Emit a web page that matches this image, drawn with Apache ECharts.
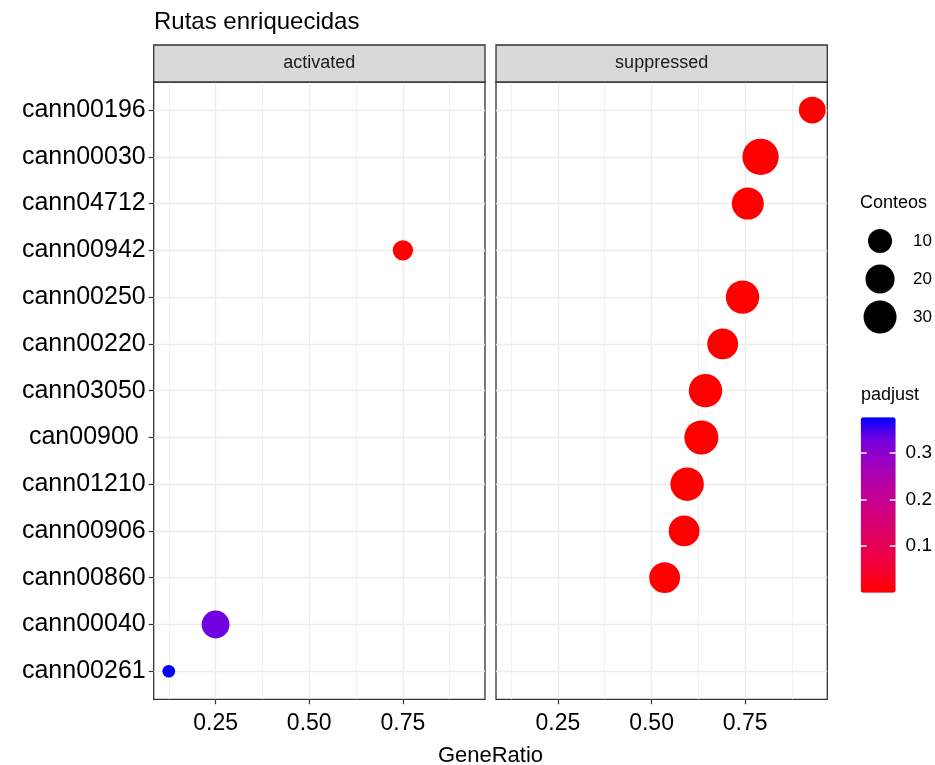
<!DOCTYPE html>
<html><head><meta charset="utf-8">
<script src="https://cdn.jsdelivr.net/npm/echarts@6/dist/echarts.min.js"></script>
<style>html,body{margin:0;padding:0;background:#fff}#c{width:935px;height:765px}</style>
</head><body><div id="c"></div><script>
// categories bottom (1) to top (13)
const categories = ['cann00261','cann00040','cann00860','cann00906','cann01210','can00900 ','cann03050','cann00220','cann00250','cann00942','cann04712','cann00030','cann00196'];
const panels = ['activated','suppressed'];

const activatedPath  = ['cann00942','cann00040','cann00261'];
const activatedRatio = [0.75, 0.25, 0.125];
const activatedCount = [5, 17, 1];
const activatedPadj  = [0.0, 0.33, 0.376];

const suppressedPath  = ['cann00196','cann00030','cann04712','cann00250','cann00220','cann03050','can00900 ','cann01210','cann00906','cann00860'];
const suppressedRatio = [0.929, 0.791, 0.757, 0.743, 0.690, 0.644, 0.633, 0.595, 0.587, 0.535];
const suppressedCount = [15, 40, 27, 31, 24, 31, 33, 31, 24, 24];
const suppressedPadj  = [0.0, 0.0, 0.0, 0.0, 0.0, 0.0, 0.0, 0.0, 0.0, 0.0];

const xTicks = [0.25, 0.5, 0.75];
const xMinorTicks = [0.125, 0.375, 0.625, 0.875];
const sizeBreaks = [10, 20, 30];
const padjBreaks = [0.1, 0.2, 0.3];

const allRatio = activatedRatio.concat(suppressedRatio);
const allCount = activatedCount.concat(suppressedCount);
const allPadj = activatedPadj.concat(suppressedPadj);
const rMin = Math.min(...allRatio), rMax = Math.max(...allRatio);
const xPad = (rMax - rMin) * 0.05;
const X_MIN = rMin - xPad, X_MAX = rMax + xPad;
const cMin = Math.min(...allCount), cMax = Math.max(...allCount);
const pMin = 0, pMax = Math.max(...allPadj);
const SIZE_RANGE = [12.7, 36.3];
function sizeOf(n) {
  const f = Math.max(0, (n - cMin) / (cMax - cMin));
  return SIZE_RANGE[0] + (SIZE_RANGE[1] - SIZE_RANGE[0]) * Math.sqrt(f);
}
function toData(paths, ratios, counts, padj) {
  return paths.map((p, i) => [ratios[i], categories.indexOf(p) + 1, counts[i], padj[i]]);
}
const yVals = categories.map((c, i) => i + 1);

const FONT = "'Liberation Sans', Arial, sans-serif";
const PANEL_TOP = 82, PANEL_H = 617.3, PANEL_W = 331.3;
const PANEL_LEFT = [153.7, 496];
const BAR_W = 35, BAR_TICK = 6;

const grids = PANEL_LEFT.map(l => ({left: l, top: PANEL_TOP, width: PANEL_W, height: PANEL_H,
  show: true, borderColor: '#333333', borderWidth: 1.3, backgroundColor: '#fff'}));
grids.push({left: 866, top: 222, width: 30, height: 114}); // size legend
grids.push({left: 860.7, top: 417.3, width: BAR_W, height: 175.4}); // colourbar axis

const xAxes = [], yAxes = [];
[0, 1].forEach(g => {
  xAxes.push({type: 'value', gridIndex: g, min: X_MIN, max: X_MAX, position: 'bottom',
    axisLine: {show: false},
    axisTick: {show: true, length: 5, customValues: xTicks, lineStyle: {color: '#333', width: 1.2}},
    axisLabel: {customValues: xTicks, formatter: v => v.toFixed(2), color: '#000', fontSize: 23, fontFamily: FONT, margin: 13},
    splitLine: {show: true, lineStyle: {color: '#ebebeb', width: 1.3}}, z: 1});
  xAxes.push({type: 'value', gridIndex: g, min: X_MIN, max: X_MAX, position: 'bottom',
    axisLine: {show: false}, axisLabel: {show: false},
    axisTick: {show: false, customValues: xMinorTicks},
    splitLine: {show: true, lineStyle: {color: '#ededed', width: 0.8}}, z: 0});
  yAxes.push({type: 'value', gridIndex: g, min: 0.4, max: categories.length + 0.6,
    axisLine: {show: false},
    axisTick: {show: g === 0, length: 5, customValues: yVals, lineStyle: {color: '#333', width: 1.2}},
    axisLabel: {show: g === 0, customValues: yVals, formatter: v => categories[Math.round(v) - 1],
      color: '#000', fontSize: 25, fontFamily: FONT, margin: 8},
    splitLine: {show: true, lineStyle: {color: '#ebebeb', width: 1.3}}});
});
// size legend axes
xAxes.push({type: 'value', gridIndex: 2, min: -1, max: 1, show: false});
yAxes.push({type: 'value', gridIndex: 2, min: 5, max: 35, inverse: true, position: 'right',
  axisLine: {show: false}, axisTick: {show: false}, splitLine: {show: false},
  axisLabel: {customValues: sizeBreaks, color: '#000', fontSize: 17, fontFamily: FONT, margin: 19}});
// colourbar axes: labels on the right, white ticks on both inner edges
xAxes.push({type: 'value', gridIndex: 3, min: 0, max: 1, show: false});
yAxes.push({type: 'value', gridIndex: 3, min: pMin, max: pMax, position: 'right', z: 10,
  axisLine: {show: false}, splitLine: {show: false}, axisTick: {show: false, customValues: padjBreaks},
  axisLabel: {customValues: padjBreaks, formatter: v => String(v), color: '#000', fontSize: 19, fontFamily: FONT, margin: 10}});
yAxes.push({type: 'value', gridIndex: 3, min: pMin, max: pMax, position: 'left', offset: 0, z: 10,
  axisLine: {show: false}, splitLine: {show: false}, axisLabel: {show: false},
  axisTick: {show: true, inside: true, length: BAR_TICK, customValues: padjBreaks, lineStyle: {color: '#fff', width: 1.5}}});
yAxes.push({type: 'value', gridIndex: 3, min: pMin, max: pMax, position: 'left', offset: -(BAR_W - BAR_TICK), z: 10,
  axisLine: {show: false}, splitLine: {show: false}, axisLabel: {show: false},
  axisTick: {show: true, inside: true, length: BAR_TICK, customValues: padjBreaks, lineStyle: {color: '#fff', width: 1.5}}});

const series = [
  {type: 'scatter', xAxisIndex: 0, yAxisIndex: 0, data: toData(activatedPath, activatedRatio, activatedCount, activatedPadj),
   symbolSize: v => sizeOf(v[2]), itemStyle: {opacity: 1}, emphasis: {disabled: true}, z: 5},
  {type: 'scatter', xAxisIndex: 2, yAxisIndex: 1, data: toData(suppressedPath, suppressedRatio, suppressedCount, suppressedPadj),
   symbolSize: v => sizeOf(v[2]), itemStyle: {opacity: 1}, emphasis: {disabled: true}, z: 5},
  {type: 'scatter', xAxisIndex: 4, yAxisIndex: 2, data: sizeBreaks.map(b => [0, b]),
   symbolSize: v => sizeOf(v[1]), itemStyle: {color: '#000', opacity: 1}, silent: true}
];

const stripGraphics = [];
PANEL_LEFT.forEach((l, i) => {
  stripGraphics.push({type: 'rect', shape: {x: l, y: 45, width: PANEL_W, height: PANEL_TOP - 45},
    style: {fill: '#d9d9d9', stroke: '#333333', lineWidth: 1.3}, z: 10});
  stripGraphics.push({type: 'text', x: l + PANEL_W / 2, y: 45 + (PANEL_TOP - 45) / 2,
    style: {text: panels[i], fill: '#1a1a1a', fontSize: 18, fontFamily: FONT, align: 'center', verticalAlign: 'middle'}, z: 11});
});
stripGraphics.push({type: 'text', x: (PANEL_LEFT[0] + PANEL_LEFT[1] + PANEL_W) / 2, y: 756,
  style: {text: 'GeneRatio', fill: '#000', fontSize: 22, fontFamily: FONT, align: 'center', verticalAlign: 'middle'}});
stripGraphics.push({type: 'text', x: 860, y: 203,
  style: {text: 'Conteos', fill: '#000', fontSize: 18, fontFamily: FONT, align: 'left', verticalAlign: 'middle'}});
stripGraphics.push({type: 'text', x: 861, y: 395,
  style: {text: 'padjust', fill: '#000', fontSize: 18, fontFamily: FONT, align: 'left', verticalAlign: 'middle'}});

const option = {
  animation: false,
  backgroundColor: '#fff',
  title: {text: 'Rutas enriquecidas', left: 154, top: 10, padding: 0,
    textStyle: {fontSize: 24, fontWeight: 'normal', color: '#000', fontFamily: FONT}},
  grid: grids,
  xAxis: xAxes,
  yAxis: yAxes,
  visualMap: {type: 'continuous', min: pMin, max: pMax, dimension: 3, seriesIndex: [0, 1],
    left: 860.7, top: 417.3, itemWidth: BAR_W, itemHeight: 175.4, padding: 0,
    calculable: false, realtime: false, hoverLink: false, text: null, showLabel: false,
    inRange: {color: ['#FF0000','#F40031','#E8004F','#DA006C','#CA0089','#B500A5','#9A00C3','#7300E0','#0000FF']},
    textStyle: {color: 'transparent'}, z: 4},
  graphic: stripGraphics,
  series: series
};
const chart = echarts.init(document.getElementById('c'), null, {renderer: 'canvas'});
chart.setOption(option);
</script></body></html>
